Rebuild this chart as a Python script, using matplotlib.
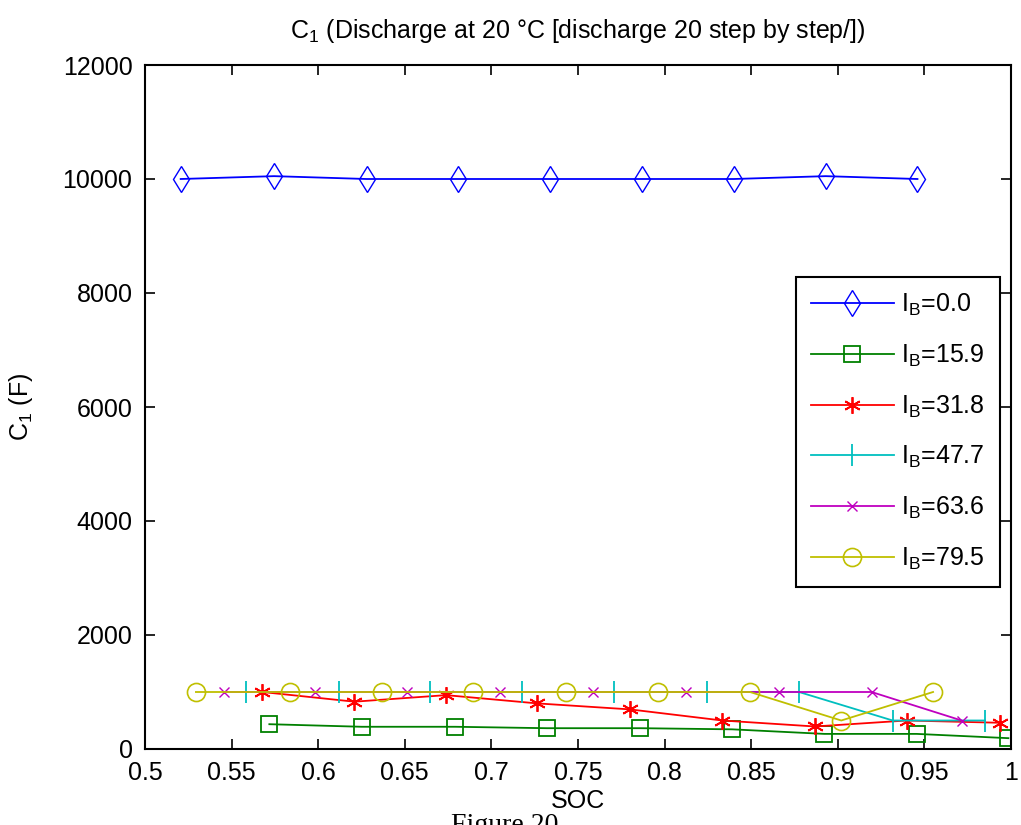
import matplotlib
matplotlib.use("Agg")
import matplotlib.pyplot as plt
import numpy as np

# SOC / C1 values, one pair per discharge current
soc_0 = [0.5206, 0.5745, 0.628, 0.681, 0.734, 0.787, 0.840, 0.893, 0.946]
c1_0 = [10000, 10050, 10000, 10000, 10000, 10000, 10000, 10050, 10000]

soc_15 = [0.5718, 0.6251, 0.679, 0.732, 0.786, 0.839, 0.8922, 0.9455, 0.9985]
c1_15 = [435, 390, 390, 365, 365, 345, 265, 265, 190]

soc_31 = [0.5677, 0.6209, 0.6738, 0.7265, 0.780, 0.8333, 0.8868, 0.9398, 0.9936]
c1_31 = [1000, 830, 945, 800, 695, 500, 395, 500, 460]

soc_47 = [0.5583, 0.6118, 0.6646, 0.7175, 0.771, 0.8243, 0.8776, 0.9317, 0.985]
c1_47 = [1000, 1000, 1000, 1000, 1000, 1000, 1000, 500, 500]

soc_63 = [0.5458, 0.598, 0.651, 0.705, 0.7588, 0.8124, 0.8662, 0.9195, 0.9715]
c1_63 = [1000, 1000, 1000, 1000, 1000, 1000, 1000, 1000, 500]

soc_79 = [0.5294, 0.5837, 0.6368, 0.6896, 0.743, 0.7964, 0.8493, 0.902, 0.955]
c1_79 = [1000, 1000, 1000, 1000, 1000, 1000, 1000, 500, 1000]

currents = ["0.0", "15.9", "31.8", "47.7", "63.6", "79.5"]
x_ticks = [0.5, 0.55, 0.6, 0.65, 0.7, 0.75, 0.8, 0.85, 0.9, 0.95, 1.0]
y_ticks = [0, 2000, 4000, 6000, 8000, 10000, 12000]

plt.rcParams["font.family"] = ["Liberation Sans", "DejaVu Sans"]
plt.rcParams["mathtext.fontset"] = "custom"
plt.rcParams["mathtext.rm"] = "Liberation Sans"
FS = 18

fig = plt.figure(figsize=(10.21, 8.25), dpi=100)
ax = fig.add_axes([145 / 1021, 76 / 825, 866 / 1021, 684 / 825])

series = [
    (soc_0, c1_0, (0, 0, 1), dict(marker="d", ms=13, mfc="none", mew=1.0)),
    (soc_15, c1_15, (0, 0.5, 0), dict(marker="s", ms=12, mfc="none", mew=1.3)),
    (soc_31, c1_31, (1, 0, 0), dict(marker=(6, 2, 0), ms=12, mew=1.3)),
    (soc_47, c1_47, (0, 0.75, 0.75), dict(marker="|", ms=16, mew=1.3)),
    (soc_63, c1_63, (0.75, 0, 0.75), dict(marker="x", ms=7, mew=1.0)),
    (soc_79, c1_79, (0.75, 0.75, 0), dict(marker="o", ms=13, mfc="none", mew=1.2)),
]
for (xs, ys, col, mk), cur in zip(series, currents):
    ax.plot(xs, ys, color=col, lw=1.3, label=r"$\mathregular{I_B}$=" + cur, **mk)

ax.set_xlim(0.5, 1.0)
ax.set_ylim(0, 12000)
ax.set_xticks(x_ticks)
ax.set_xticklabels([f"{t:g}" for t in x_ticks])
ax.set_yticks(y_ticks)
ax.set_yticklabels([str(t) for t in y_ticks])
ax.tick_params(direction="in", length=7, width=1.2, top=True, right=True,
               labelsize=FS, pad=9, colors="black")
for sp in ax.spines.values():
    sp.set_linewidth(1.5)

ax.set_xlabel("SOC", fontsize=FS)
ax.xaxis.set_label_coords(0.5, -0.058)
ax.set_ylabel(r"$\mathregular{C_1}$ (F)", fontsize=FS)
ax.yaxis.set_label_coords(-0.127, 0.5)

fig.text(578 / 1021, (825 - 38) / 825,
         r"$\mathregular{C_1}$ (Discharge at 20 °C [discharge 20 step by step/])",
         ha="center", va="baseline", fontsize=FS)

leg = ax.legend(loc="upper left", bbox_to_anchor=(0.752, 0.690), borderaxespad=0,
                fontsize=FS, handlelength=3.3, handletextpad=0.3, labelspacing=0.98,
                borderpad=0.6, fancybox=False, framealpha=1, edgecolor="black")
leg.get_frame().set_linewidth(1.5)

fig.text(505 / 1021, (825 - 813) / 825, "Figure 20", family="Liberation Serif",
         fontsize=20, ha="center", va="top")

fig.savefig("out.png", dpi=100)
